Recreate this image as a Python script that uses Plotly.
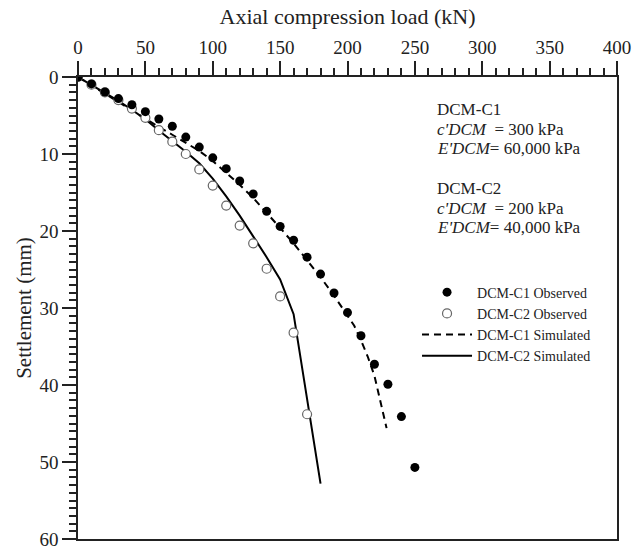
import plotly.graph_objects as go

# Observed load-settlement data (load in kN, settlement in mm)
c1_obs_load = [0, 10, 20, 30, 40, 50, 60, 70, 80, 90, 100, 110, 120, 130, 140, 150,
               160, 170, 180, 190, 200, 210, 220, 230, 240, 250]
c1_obs_settle = [0, 0.9, 1.95, 2.8, 3.6, 4.5, 5.45, 6.4, 7.8, 9.1, 10.5, 11.9, 13.5, 15.2,
                 17.45, 19.4, 21.2, 23.4, 25.6, 28.05, 30.6, 33.6, 37.3, 39.9, 44.1, 50.7]

c2_obs_load = [0, 10, 20, 30, 40, 50, 60, 70, 80, 90, 100, 110, 120, 130, 140, 150, 160, 170]
c2_obs_settle = [0, 1.0, 2.0, 3.0, 4.1, 5.3, 6.9, 8.4, 10.0, 12.0, 14.1, 16.7, 19.3, 21.6,
                 24.9, 28.5, 33.2, 43.8]

# Simulated curves
c1_sim_load = [0, 20, 40, 50, 60, 70, 80, 90, 100, 110, 120, 130, 140, 150, 160, 170, 180,
               190, 200, 205, 210, 215, 220, 225, 229]
c1_sim_settle = [0, 2.2, 4.4, 5.4, 6.5, 7.5, 8.5, 9.6, 10.9, 12.4, 14.0, 15.7, 17.6, 19.6,
                 21.6, 23.8, 26.0, 28.4, 31.0, 32.3, 34.2, 36.3, 38.8, 42.4, 45.6]

c2_sim_load = [0, 10, 20, 30, 40, 50, 60, 70, 80, 90, 100, 110, 120, 130, 140, 150, 160, 180]
c2_sim_settle = [0, 1.0, 2.05, 3.1, 4.25, 5.5, 6.95, 8.3, 9.7, 11.2, 13.2, 15.5, 18.0, 20.7,
                 23.4, 26.3, 30.8, 52.8]

# Parameter notes
notes = [
    "DCM-C1",
    "<i>c'DCM</i>  = 300 kPa",
    "<i>E'DCM</i>= 60,000 kPa",
    "DCM-C2",
    "<i>c'DCM</i>  = 200 kPa",
    "<i>E'DCM</i>= 40,000 kPa",
]
notes_y = [4.25, 6.78, 9.31, 14.5, 17.04, 19.57]
notes_x = 265.5

FONT = "Liberation Serif, Times New Roman, serif"

fig = go.Figure()

fig.add_trace(go.Scatter(
    x=c1_sim_load, y=c1_sim_settle, mode="lines", name="DCM-C1 Simulated",
    line=dict(color="black", width=2, dash="7px,5px"), legendrank=3,
))
fig.add_trace(go.Scatter(
    x=c2_sim_load, y=c2_sim_settle, mode="lines", name="DCM-C2 Simulated",
    line=dict(color="black", width=2), legendrank=4,
))
fig.add_trace(go.Scatter(
    x=c2_obs_load, y=c2_obs_settle, mode="markers", name="DCM-C2 Observed",
    marker=dict(symbol="circle", size=9, color="white",
                line=dict(color="#666666", width=1.2)),
    legendrank=2,
))
fig.add_trace(go.Scatter(
    x=c1_obs_load, y=c1_obs_settle, mode="markers", name="DCM-C1 Observed",
    marker=dict(symbol="circle", size=9, color="black"),
    legendrank=1,
))

for txt, yy in zip(notes, notes_y):
    fig.add_annotation(x=notes_x, y=yy, xref="x", yref="y", text=txt,
                       showarrow=False, xanchor="left", yanchor="middle",
                       borderpad=0,
                       font=dict(family=FONT, size=17, color="#222"))

axis_common = dict(
    showgrid=False, zeroline=False, showline=True, linecolor="#222", linewidth=1.5,
    mirror=True, ticks="outside", tickcolor="#222", tickwidth=1.5, ticklen=14,
    tickfont=dict(family=FONT, size=19, color="#222"),
)

fig.update_xaxes(
    range=[0, 400], side="top", dtick=50, tick0=0,
    minor=dict(dtick=10, ticks="outside", ticklen=7, tickcolor="#222", tickwidth=1.5),
    title=dict(text="Axial compression load (kN)", standoff=6,
               font=dict(family=FONT, size=22, color="#222")),
    **axis_common,
)
fig.update_yaxes(
    range=[60, 0], dtick=10, tick0=0,
    minor=dict(dtick=1, ticks="outside", ticklen=7, tickcolor="#222", tickwidth=1.5),
    title=dict(text="Settlement (mm)", standoff=2,
               font=dict(family=FONT, size=21, color="#222")),
    **axis_common,
)

fig.update_layout(
    width=640, height=550,
    margin=dict(l=78, r=23, t=77, b=11, autoexpand=False),
    paper_bgcolor="white", plot_bgcolor="white",
    showlegend=True,
    legend=dict(x=0.629, y=0.568, xanchor="left", yanchor="top",
                bgcolor="rgba(0,0,0,0)", itemwidth=50,
                font=dict(family=FONT, size=14, color="#222"),
                tracegroupgap=0),
)

fig.write_html("out.html")
